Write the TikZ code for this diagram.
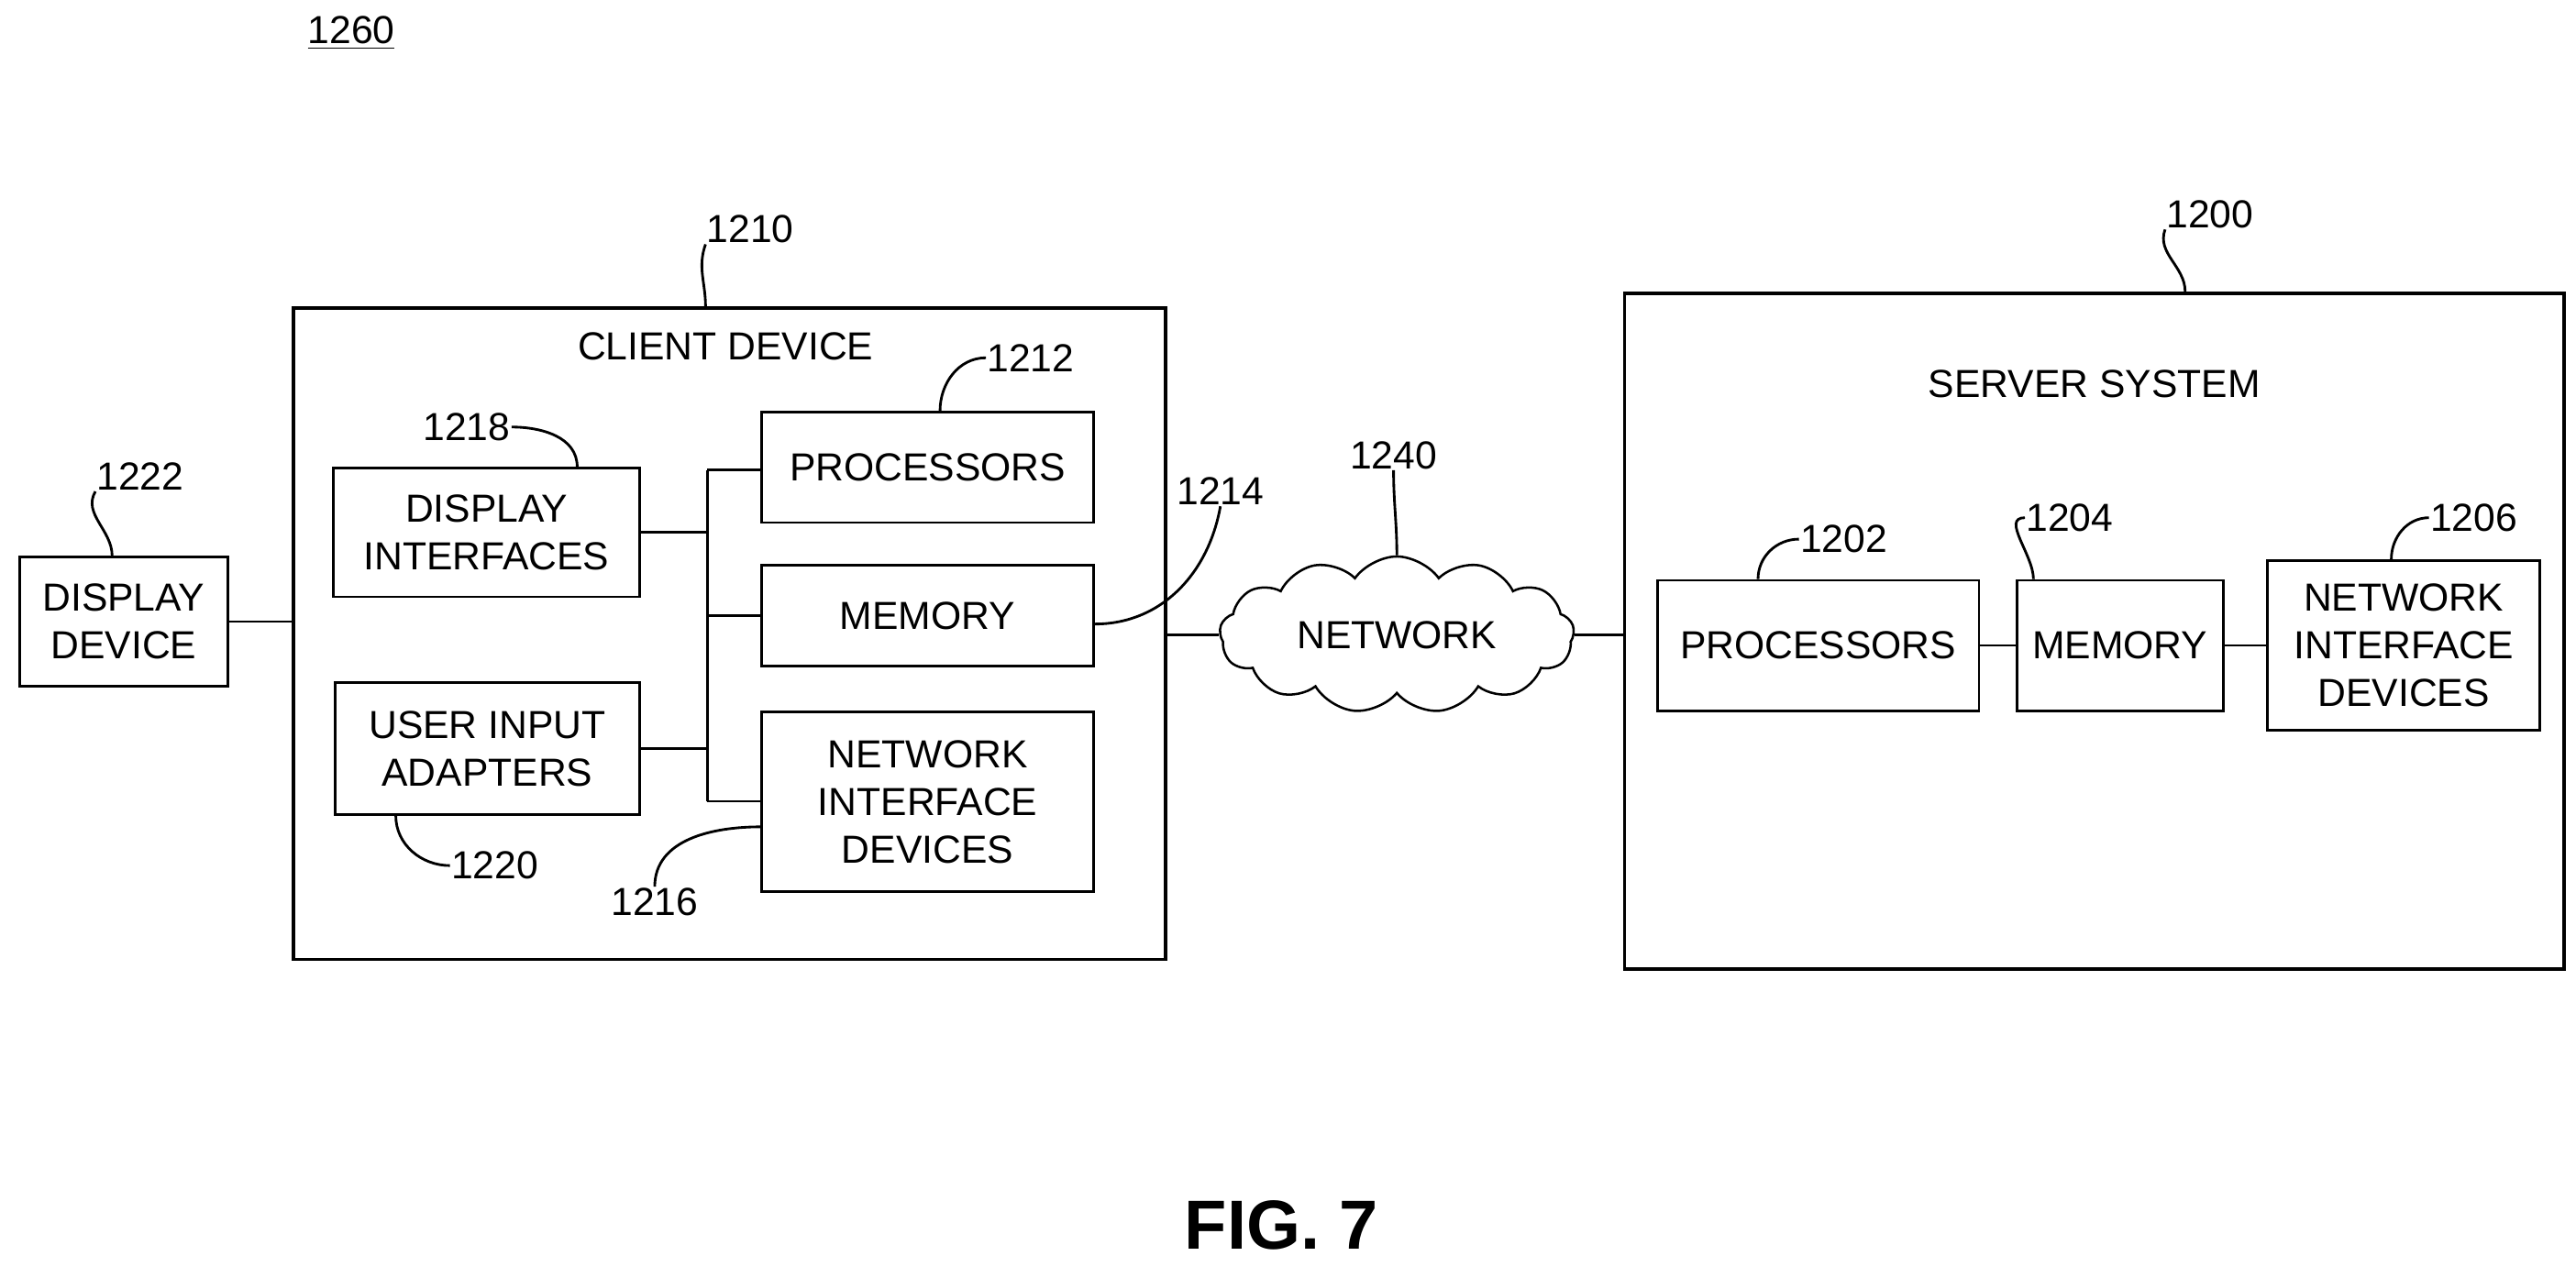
\documentclass[tikz,border=0pt]{standalone}
\usepackage{fontspec}
\setmainfont{Liberation Sans}
\usetikzlibrary{shapes.symbols}
\begin{document}
\begin{tikzpicture}[x=0.02cm,y=-0.02cm,line width=0.9pt,
    every node/.style={font=\fontsize{13.5}{16.5}\selectfont,align=center,inner sep=0pt},
    box/.style={draw,rectangle},
    bigbox/.style={draw,rectangle,line width=1.2pt},
    ref/.style={},
    lead/.style={line width=0.9pt}]
    \useasboundingbox (0,0) rectangle (1562,768);

    \node[ref] (r1260) at (213,20) {\underline{1260}};

    % client side
    \node[bigbox,minimum width=10.58cm,minimum height=7.9cm] (client) at (442.5,384.5) {};
    \node (clientlbl) at (440,210) {CLIENT DEVICE};
    \node[ref] (r1210) at (455,139) {1210};
    \node[box,minimum width=2.52cm,minimum height=1.56cm] (dispdev) at (75,377) {DISPLAY\\DEVICE};
    \node[ref] (r1222) at (85,289) {1222};
    \node[box,minimum width=3.72cm,minimum height=1.56cm] (dispif) at (295,323) {DISPLAY\\INTERFACES};
    \node[ref] (r1218) at (283,259) {1218};
    \node[box,minimum width=3.7cm,minimum height=1.6cm] (uia) at (295.5,454) {USER INPUT\\ADAPTERS};
    \node[ref] (r1220) at (300,525) {1220};
    \node[box,minimum width=4.02cm,minimum height=1.34cm] (cproc) at (562.5,283.5) {PROCESSORS};
    \node[ref] (r1212) at (625,217) {1212};
    \node[box,minimum width=4.02cm,minimum height=1.22cm] (cmem) at (562.5,373.5) {MEMORY};
    \node[ref] (r1214) at (740,298) {1214};
    \node[box,minimum width=4.02cm,minimum height=2.18cm] (cnid) at (562.5,486.5) {NETWORK\\INTERFACE\\DEVICES};
    \node[ref] (r1216) at (397,547) {1216};

    % network
    \node[draw,cloud,cloud puffs=13,cloud puff arc=110,aspect=2.4,minimum width=4.3cm,minimum height=1.9cm,line width=0.8pt] (net) at (847,385) {NETWORK};
    \node[ref] (r1240) at (845,276) {1240};

    % server side
    \node[bigbox,minimum width=11.4cm,minimum height=8.2cm] (server) at (1270,383) {};
    \node (serverlbl) at (1270,233) {SERVER SYSTEM};
    \node[ref] (r1200) at (1340,130) {1200};
    \node[box,minimum width=3.9cm,minimum height=1.58cm] (sproc) at (1102.5,391.5) {PROCESSORS};
    \node[ref] (r1202) at (1118,327) {1202};
    \node[box,minimum width=2.5cm,minimum height=1.58cm] (smem) at (1285.5,391.5) {MEMORY};
    \node[ref] (r1204) at (1255,314) {1204};
    \node[box,minimum width=3.3cm,minimum height=2.06cm] (snid) at (1457.5,391.5) {NETWORK\\INTERFACE\\DEVICES};
    \node[ref] (r1206) at (1500,314) {1206};

    \node[font=\fontsize{24}{28}\selectfont\bfseries] (fig) at (777,743) {FIG. 7};

    % bus
    \coordinate (bustop) at (429,285);
    \coordinate (busbot) at (429,486);
    \draw (bustop) -- (busbot);
    \draw (dispif.east) -- (dispif.east -| bustop);
    \draw (uia.east) -- (uia.east -| bustop);
    \draw (bustop) -- (bustop -| cproc.west);
    \draw (cmem.west -| bustop) -- (cmem.west);
    \draw (busbot) -- (busbot -| cnid.west);

    % links
    \draw (dispdev.east) -- (dispdev.east -| client.west);
    \draw (client.east |- net.west) -- (net.west);
    \draw (net.east) -- (net.east -| server.west);
    \draw (sproc.east) -- (smem.west);
    \draw (smem.east) -- (snid.west);

    % leaders
    \draw[lead] (r1210.south west) to[out=-110,in=90] (client.north -| r1210.south west);
    \draw[lead] (r1222.south west) to[out=-120,in=90] (dispdev.north -| 68,0);
    \draw[lead] (r1218.east) to[out=0,in=90] (dispif.north -| 350,0);
    \draw[lead] (r1220.west) to[out=180,in=-90] (uia.south -| 240,0);
    \draw[lead] (r1212.west) to[out=180,in=90] (cproc.north -| 570,0);
    \draw[lead] (r1214.south) to[out=-100,in=0] ([yshift=-0.1cm]cmem.east);
    \draw[lead] (r1216.north) to[out=90,in=180] ([yshift=-0.3cm]cnid.west);
    \draw[lead] (r1240.south) to[out=-90,in=90] (net.north);
    \draw[lead] (r1200.south west) to[out=-110,in=90] (server.north -| 1325,0);
    \draw[lead] (r1202.west) to[out=180,in=90] (sproc.north -| 1066,0);
    \draw[lead] (r1204.west) to[out=180,in=90] (smem.north -| 1233,0);
    \draw[lead] (r1206.west) to[out=180,in=90] (snid.north -| 1450,0);
\end{tikzpicture}
\end{document}
